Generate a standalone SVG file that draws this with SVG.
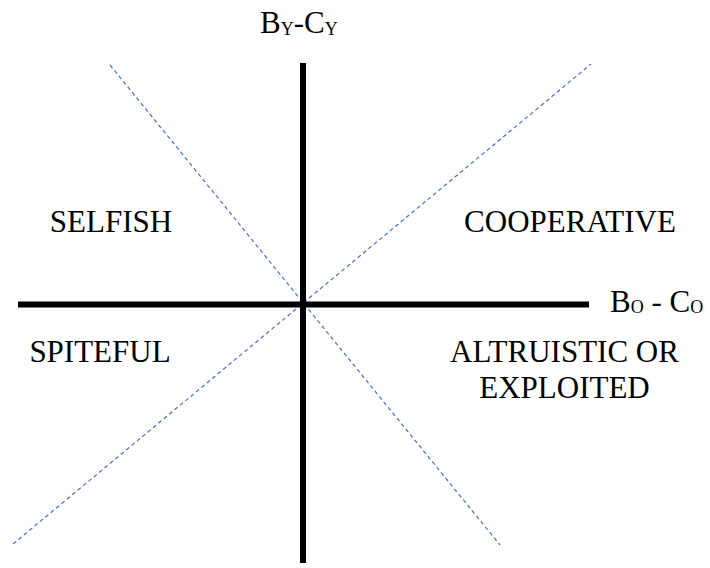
<svg xmlns="http://www.w3.org/2000/svg" width="710" height="568" viewBox="0 0 710 568">
<style>
.t{font-family:"Liberation Serif","Times New Roman",serif;font-size:31px;fill:#000}
.s{font-size:18px}
.ax{stroke:#000;stroke-width:6;fill:none}
.d{stroke:#4472C4;stroke-width:1.2;stroke-dasharray:4 3;fill:none}
</style>
<rect width="710" height="568" fill="#fff"/>
<g id="connectors">
<line class="d" x1="110" y1="65" x2="500" y2="545"/>
<line class="d" x1="13" y1="544" x2="591" y2="64"/>
<line class="ax" x1="303" y1="63" x2="303" y2="563"/>
<line class="ax" x1="18" y1="304.5" x2="589" y2="304.5"/>
</g>
<g id="y-axis-label"><text class="t" x="260" y="33">B<tspan class="s" dy="2">Y</tspan><tspan dy="-2">-C</tspan><tspan class="s" dy="2">Y</tspan></text></g>
<g id="x-axis-label"><text class="t" x="610" y="312">B<tspan class="s" dy="1">O</tspan><tspan dy="-1"> - C</tspan><tspan class="s" dy="1">O</tspan></text></g>
<g id="selfish"><text class="t" x="111" y="232" text-anchor="middle">SELFISH</text></g>
<g id="cooperative"><text class="t" x="570" y="232" text-anchor="middle">COOPERATIVE</text></g>
<g id="spiteful"><text class="t" x="100" y="362" text-anchor="middle">SPITEFUL</text></g>
<g id="altruistic"><text class="t" text-anchor="middle"><tspan x="564.5" y="362">ALTRUISTIC OR</tspan><tspan x="564.5" y="398">EXPLOITED</tspan></text></g>
</svg>
